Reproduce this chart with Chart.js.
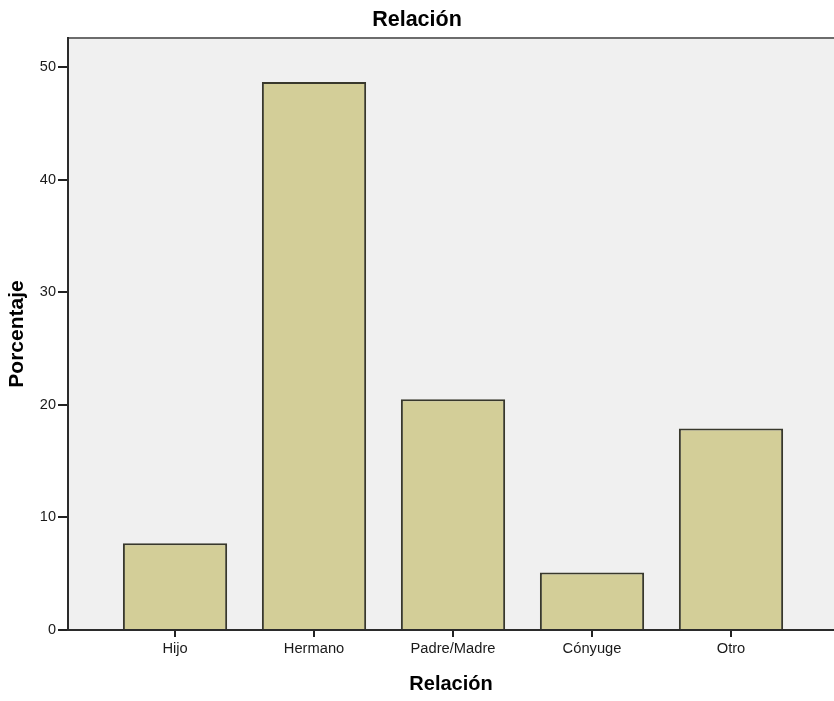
<!DOCTYPE html>
<html>
<head>
<meta charset="utf-8">
<script src="https://cdn.jsdelivr.net/npm/chart.js@4"></script>
<style>
  html, body { margin: 0; padding: 0; background: #ffffff; overflow: hidden; }
  #wrap { position: relative; width: 834px; height: 701px; }
</style>
</head>
<body>
<div id="wrap"><canvas id="c"></canvas></div>
<script>
const categories = ['Hijo', 'Hermano', 'Padre/Madre', 'Cónyuge', 'Otro'];
const percentages = [7.7, 48.7, 20.5, 5.1, 17.9];
const yTicks = [0, 10, 20, 30, 40, 50];
const chartTitle = 'Relación';
const xTitle = 'Relación';
const yTitle = 'Porcentaje';

const FONT = "'Liberation Sans', Arial, sans-serif";

const plotBg = {
  id: 'plotBg',
  beforeDraw(chart) {
    const { ctx, chartArea: a } = chart;
    ctx.save();
    ctx.fillStyle = '#f0f0f0';
    ctx.fillRect(a.left, a.top, a.right - a.left, a.bottom - a.top);
    ctx.strokeStyle = '#6c6c6c';
    ctx.lineWidth = 2;
    ctx.beginPath();
    ctx.moveTo(a.left, a.top);
    ctx.lineTo(a.right + 2, a.top);
    ctx.stroke();
    ctx.restore();
  }
};

new Chart(document.getElementById('c'), {
  type: 'bar',
  data: {
    datasets: [{
      data: categories.map((c, i) => ({ x: i, y: percentages[i] })),
      backgroundColor: '#d3ce98',
      borderColor: '#38382c',
      borderWidth: 2,
      barPercentage: 0.75,
      categoryPercentage: 1.0
    }]
  },
  options: {
    responsive: true,
    maintainAspectRatio: false,
    animation: false,
    layout: { padding: 0 },
    plugins: {
      legend: { display: false },
      tooltip: { enabled: false },
      title: {
        display: true,
        text: chartTitle,
        color: '#000',
        font: { family: FONT, size: 21.5, weight: 'bold' },
        padding: { top: 7, bottom: 5.2 }
      }
    },
    scales: {
      x: {
        type: 'linear',
        offset: false,
        min: -0.77,
        max: 4.741,
        afterFit(scale) { scale.height = 71; },
        grid: { display: true, offset: false, drawOnChartArea: false, drawTicks: true, tickLength: 7, color: '#222', lineWidth: 2 },
        border: { display: true, color: '#2b2b2b', width: 2 },
        ticks: {
          stepSize: 1,
          includeBounds: false,
          autoSkip: false,
          maxRotation: 0,
          padding: 3,
          color: '#1a1a1a',
          font: { family: FONT, size: 14.7 },
          callback: (v) => Number.isInteger(v) && categories[v] !== undefined ? categories[v] : ''
        },
        title: {
          display: true,
          text: xTitle,
          color: '#000',
          font: { family: FONT, size: 20, weight: 'bold' },
          padding: { top: 0, bottom: 5 }
        }
      },
      y: {
        min: 0,
        max: 52.6,
        afterFit(scale) { scale.width = 68; },
        grid: { display: true, drawOnChartArea: false, drawTicks: true, tickLength: 10, color: '#222', lineWidth: 2 },
        border: { display: true, color: '#2b2b2b', width: 2 },
        afterBuildTicks(scale) { scale.ticks = yTicks.map(v => ({ value: v })); },
        ticks: {
          includeBounds: false,
          padding: 2,
          color: '#1a1a1a',
          font: { family: FONT, size: 14.5 }
        },
        title: {
          display: true,
          text: yTitle,
          color: '#000',
          font: { family: FONT, size: 21, weight: 'bold' },
          padding: { top: 5, bottom: 0 }
        }
      }
    }
  },
  plugins: [plotBg]
});
</script>
</body>
</html>
